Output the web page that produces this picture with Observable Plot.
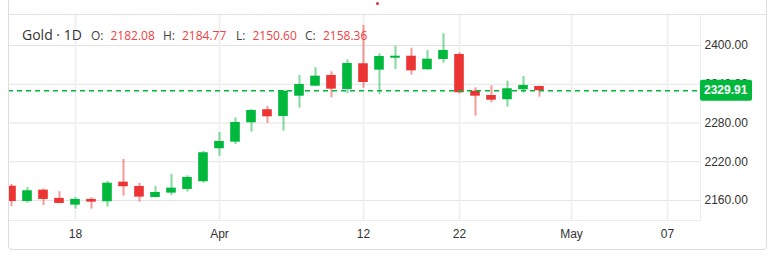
<!DOCTYPE html>
<html>
<head>
<meta charset="utf-8">
<script src="https://cdn.jsdelivr.net/npm/d3@7"></script>
<script src="https://cdn.jsdelivr.net/npm/@observablehq/plot@0.6"></script>
<style>
  html, body { margin: 0; padding: 0; background: #fff; }
  #wrap { position: relative; width: 769px; height: 262px; overflow: hidden; background: #fff; }
  #chart { position: absolute; left: 0; top: 0; }
  .ov { position: absolute; pointer-events: none; }
  #frame { left: 8px; top: -10px; width: 759px; height: 260px; box-sizing: border-box;
           border: 1px solid #dedede; border-radius: 4px; }
  #topline { left: 8px; top: 14px; width: 759px; height: 1px; background: #e2e2e2; }
  #dot { left: 375.5px; top: 1.5px; width: 3px; height: 3px; border-radius: 50%; background: #e53030; }
  .hd { position: absolute; font-family: "Open Sans", sans-serif; white-space: nowrap; line-height: 1; }
  .ttl { font-size: 14px; color: #333; top: 28px; }
  .k { font-size: 12px; color: #444; top: 29.5px; }
  .v { font-size: 12px; color: #ef4242; top: 29.5px; }
</style>
</head>
<body>
<div id="wrap">
  <div id="chart"></div>
  <div class="ov" id="frame"></div>
  <div class="ov" id="topline"></div>
  <div class="ov" id="dot"></div>
  <div id="header"></div>
</div>
<script>
// ---- data ----
const title = "Gold · 1D";
const dates = ["Mar 12","Mar 13","Mar 14","Mar 15","Mar 18","Mar 19","Mar 20","Mar 21","Mar 22","Mar 25",
               "Mar 26","Mar 27","Mar 28","Apr 1","Apr 2","Apr 3","Apr 4","Apr 5","Apr 8","Apr 9",
               "Apr 10","Apr 11","Apr 12","Apr 15","Apr 16","Apr 17","Apr 18","Apr 19","Apr 22","Apr 23",
               "Apr 24","Apr 25","Apr 26","Apr 29"];
const open  = [2182.08,2158.4,2176.0,2163.2,2152.8,2161.6,2158.0,2188.4,2181.7,2164.7,
               2171.4,2177.1,2189.0,2240.1,2250.3,2280.3,2300.5,2290.1,2321.5,2337.0,
               2353.6,2331.9,2371.7,2361.8,2380.3,2383.4,2362.4,2378.3,2386.1,2329.3,
               2322.6,2316.0,2331.4,2336.5];
const high  = [2184.77,2180.2,2177.6,2173.5,2164.7,2164.2,2189.5,2223.5,2186.4,2181.7,
               2200.3,2198.3,2236.0,2265.3,2288.0,2300.5,2305.6,2330.0,2353.6,2365.5,
               2359.3,2377.9,2431.0,2387.2,2398.9,2395.8,2392.3,2418.1,2388.7,2334.5,
               2337.6,2344.7,2352.0,2336.8];
const low   = [2150.60,2155.9,2152.3,2155.0,2146.6,2146.6,2149.7,2166.7,2157.4,2164.2,
               2167.8,2173.0,2186.8,2228.6,2246.7,2265.8,2279.3,2267.3,2302.9,2336.5,
               2319.0,2325.7,2333.9,2324.1,2362.8,2354.0,2362.0,2372.6,2325.2,2290.6,
               2311.3,2304.5,2326.2,2320.0];
const close = [2158.36,2175.1,2161.6,2155.4,2161.6,2157.4,2186.8,2181.3,2165.2,2172.4,
               2179.1,2195.7,2233.9,2251.4,2280.8,2299.4,2289.6,2329.3,2339.6,2352.5,
               2332.4,2372.1,2342.7,2383.0,2383.4,2360.8,2378.8,2392.3,2326.8,2321.5,
               2315.3,2333.0,2338.1,2329.91];
const yTicks = [2160, 2220, 2280, 2340, 2400];
const xTickIdx = [4, 13, 22, 28, 35, 41];
const xTickLabels = ["18", "Apr", "12", "22", "May", "07"];
const legendIdx = 0;
const lastClose = close[close.length - 1];

const green = "#00b83c";
const red = "#ec3434";

const rows = dates.map((d, i) => ({i, date: d, open: open[i], high: high[i], low: low[i], close: close[i]}));
const up = rows.filter(r => r.close >= r.open);
const down = rows.filter(r => r.close < r.open);

// ---- header ----
const fmt = d3.format(".2f");
const header = document.getElementById("header");
const hdItems = [
  ["ttl", title, 22],
  ["k", "O:", 91], ["v", fmt(open[legendIdx]), 110.5],
  ["k", "H:", 163], ["v", fmt(high[legendIdx]), 182],
  ["k", "L:", 236], ["v", fmt(low[legendIdx]), 252.5],
  ["k", "C:", 305], ["v", fmt(close[legendIdx]), 323]
];
for (const [cls, txt, left] of hdItems) {
  const s = document.createElement("span");
  s.className = "hd " + cls;
  s.style.left = left + "px";
  s.textContent = txt;
  header.appendChild(s);
}

// ---- chart ----
const priceLabel = (index, scales, values, dims) => {
  const y = scales.y(lastClose);
  const x0 = dims.width - dims.marginRight;
  const g = d3.create("svg:g");
  g.append("rect").attr("x", x0).attr("y", y - 10.5).attr("width", 52).attr("height", 21)
    .attr("rx", 2).attr("fill", green);
  g.append("text").attr("x", x0 + 4).attr("y", y).attr("dy", "0.35em")
    .attr("text-anchor", "start")
    .attr("fill", "#fff").attr("font-weight", "bold").attr("font-size", 12)
    .text(fmt(lastClose));
  return g.node();
};

const chart = Plot.plot({
  width: 769,
  height: 262,
  marginLeft: 8,
  marginRight: 69,
  marginTop: 14,
  marginBottom: 42,
  style: {fontSize: "12px", fontFamily: "'Liberation Sans', Arial, sans-serif", color: "#333", background: "transparent"},
  x: {type: "linear", domain: [-0.1875, 43.0625], axis: null},
  y: {domain: [2129, 2448], axis: null},
  marks: [
    Plot.ruleY(yTicks, {stroke: "#e4e4e4", strokeWidth: 1.2}),
    Plot.ruleX(xTickIdx, {stroke: "#f0f0f0", strokeWidth: 2}),
    Plot.frame({stroke: "#ececec"}),
    Plot.axisY(yTicks, {anchor: "right", tickSize: 0, tickPadding: 4, tickFormat: d3.format(".2f"), label: null}),
    Plot.axisX(xTickIdx, {anchor: "bottom", tickSize: 0, tickPadding: 9,
      tickFormat: d => xTickLabels[xTickIdx.indexOf(d)], label: null}),
    Plot.ruleX(up, {x: "i", y1: "low", y2: "high", stroke: green, strokeOpacity: 0.5, strokeWidth: 2, clip: true}),
    Plot.ruleX(down, {x: "i", y1: "low", y2: "high", stroke: red, strokeOpacity: 0.5, strokeWidth: 2, clip: true}),
    Plot.rect(up, {x1: d => d.i - 0.3, x2: d => d.i + 0.3, y1: "open", y2: "close", fill: green, clip: true}),
    Plot.rect(down, {x1: d => d.i - 0.3, x2: d => d.i + 0.3, y1: "open", y2: "close", fill: red, clip: true}),
    Plot.ruleY([lastClose], {stroke: green, strokeWidth: 1.3, strokeDasharray: "5,4"}),
    priceLabel
  ]
});
document.getElementById("chart").appendChild(chart);
</script>
</body>
</html>
